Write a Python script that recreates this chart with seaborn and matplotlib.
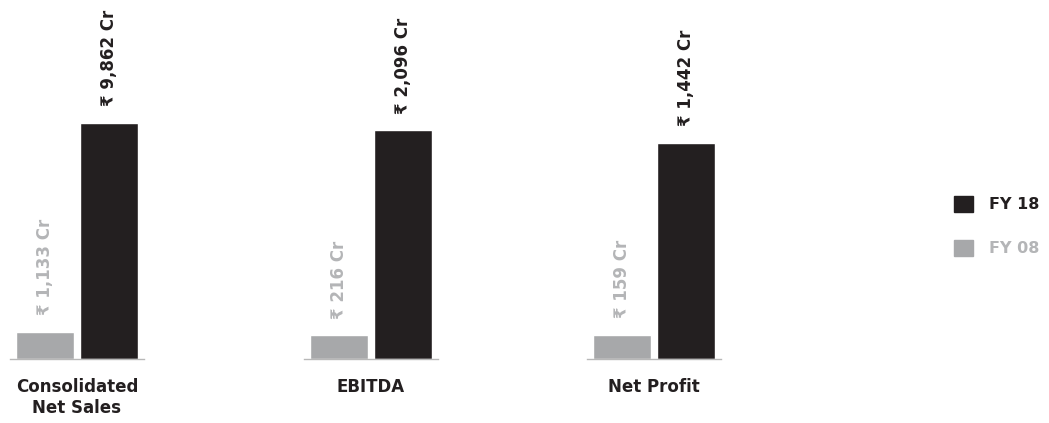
import pandas as pd
import seaborn as sns
import matplotlib.pyplot as plt
from matplotlib.patches import Patch

# datos del gráfico
metrics = ['Consolidated\nNet Sales', 'EBITDA', 'Net Profit']
fy08 = [1133, 216, 159]
fy18 = [9862, 2096, 1442]
years = ['FY 08', 'FY 18']

df = pd.DataFrame({
    'metric': metrics * 2,
    'year': ['FY 08'] * 3 + ['FY 18'] * 3,
    'value': fy08 + fy18,
})

black = '#231f20'
grey = '#a7a8aa'
grey_txt = '#b4b5b7'
palette = {'FY 08': grey, 'FY 18': black}

sns.set_style('white')
plt.rcParams['font.family'] = ['DejaVu Sans']

fig = plt.figure(figsize=(10.49, 4.23), dpi=100)

# cada grupo tiene su propia escala
lefts = [10, 304, 587]
headroom = [1.52, 1.57, 1.66]

for i, m in enumerate(metrics):
    ax = fig.add_axes([lefts[i] / 1049, 64 / 423, 134 / 1049, 359 / 423])
    sub = df[df['metric'] == m]
    sns.barplot(data=sub, x='metric', y='value', hue='year', hue_order=years,
                palette=palette, width=0.8, gap=0.08, saturation=1,
                legend=False, ax=ax)
    ax.set_xlim(-0.42, 0.42)
    ax.set_ylim(0, max(sub['value']) * headroom[i])
    for c, col in zip(ax.containers, [grey_txt, black]):
        for bar in c:
            v = bar.get_height()
            ax.annotate(f'₹ {int(v):,} Cr', (bar.get_x() + bar.get_width() / 2, v),
                        xytext=(0, 12), textcoords='offset points',
                        rotation=90, ha='center', va='bottom',
                        fontsize=12, fontweight='bold', color=col)
    for s in ['top', 'left', 'right']:
        ax.spines[s].set_visible(False)
    ax.spines['bottom'].set_color('#b8b8b8')
    ax.spines['bottom'].set_linewidth(1)
    ax.set_yticks([])
    ax.set_xlabel('')
    ax.set_ylabel('')
    ax.tick_params(axis='x', length=0, pad=14)
    for t in ax.get_xticklabels():
        t.set_fontsize(12)
        t.set_fontweight('bold')
        t.set_color(black)
        t.set_linespacing(1.15)

handles = [Patch(color=black), Patch(color=grey)]
fig.legend(handles, ['FY 18', 'FY 08'], loc='center left',
           bbox_to_anchor=(954 / 1049, 1 - 226 / 423), frameon=False,
           borderaxespad=0, borderpad=0,
           prop={'size': 11.5, 'weight': 'bold'}, labelcolor=[black, grey_txt],
           handlelength=1.2, handleheight=1.15, handletextpad=1.0,
           labelspacing=1.75)

plt.savefig('out.png', dpi=100)
